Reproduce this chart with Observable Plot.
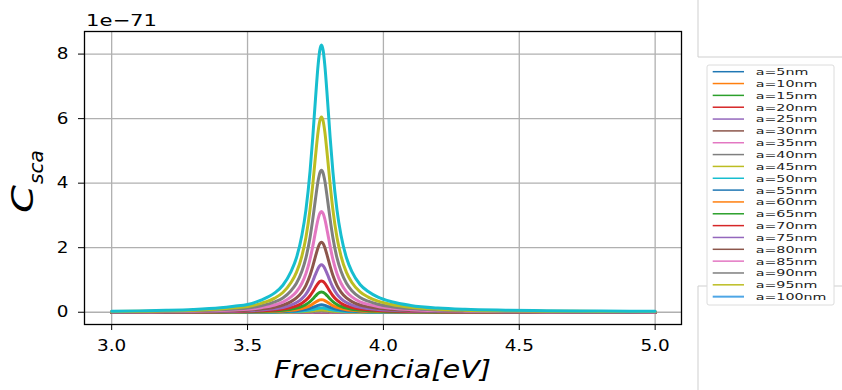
<!DOCTYPE html>
<html><head><meta charset="utf-8">
<script src="https://cdn.jsdelivr.net/npm/d3@7"></script>
<script src="https://cdn.jsdelivr.net/npm/@observablehq/plot@0.6"></script>
<style>
html,body{margin:0;padding:0;background:#fff;}
#chart{width:842px;height:390px;position:relative;overflow:hidden;}
</style></head><body><div id="chart"></div>
<script>
// Particle radii (nm) and legend labels
const radii = [5,10,15,20,25,30,35,40,45,50,55,60,65,70,75,80,85,90,95,100];
const labels = radii.map(a => `a=${a}nm`);
// Peak scattering cross-section of each curve (units of 1e-71)
const peaks = [0,0.00001,0.0001,0.0005,0.002,0.006,0.016,0.035,0.07,0.13,0.23,0.39,0.63,0.97,1.47,2.17,3.12,4.40,6.05,8.28];
// Photon energy (eV) samples and normalized resonance profile
const energies = [3.00,3.10,3.20,3.30,3.40,3.45,3.50,3.55,3.60,3.63,3.66,3.68,3.70,3.715,3.73,3.74,3.75,3.76,3.766,3.772,3.778,3.784,3.794,3.804,3.814,3.829,3.844,3.864,3.884,3.914,3.944,3.98,4.03,4.10,4.20,4.30,4.45,4.60,4.80,5.00];
const profile  = [0.0038,0.0051,0.0071,0.0104,0.0168,0.0224,0.029,0.0456,0.0723,0.101,0.152,0.204,0.288,0.384,0.527,0.654,0.798,0.929,0.981,1.0,0.981,0.929,0.798,0.654,0.527,0.384,0.288,0.204,0.152,0.104,0.0776,0.0567,0.0394,0.0256,0.0157,0.0108,0.0075,0.0056,0.0042,0.0033];
const xTicks = [3.0,3.5,4.0,4.5,5.0];
const yTicks = [0,2,4,6,8];
const palette = ["#1f77b4","#ff7f0e","#2ca02c","#d62728","#9467bd","#8c564b","#e377c2","#7f7f7f","#bcbd22","#17becf"];
const legendColors = radii.map((a,k) => k === 19 ? "#4ea6e6" : palette[k % 10]);

const rows = [];
radii.forEach((a,k) => energies.forEach((e,i) => rows.push({a, e, c: peaks[k] * profile[i]})));

const marks = [
  Plot.ruleX(xTicks, {stroke:"#b0b0b0", strokeWidth:1.3}),
  Plot.ruleY(yTicks, {stroke:"#b0b0b0", strokeWidth:1.3}),
  ...radii.map((a,k) => Plot.line(rows.filter(r => r.a === a), {x:"e", y:"c", stroke: palette[k % 10], strokeWidth:3, curve:"monotone-x"})),
  Plot.frame({stroke:"black", strokeWidth:1.3})
];

const chart = Plot.plot({
  width: 842, height: 390,
  marginLeft: 84, marginRight: 161, marginTop: 31, marginBottom: 66,
  x: {domain:[2.9,5.097], ticks:xTicks, tickFormat: d => d.toFixed(1), tickSize:6, tickPadding:9, label:null},
  y: {domain:[-0.38,8.70], ticks:yTicks, tickFormat: d => String(d), tickSize:6, tickPadding:10, label:null},
  style: {fontSize:"16px", fontFamily:"'DejaVu Sans'", color:"black", background:"white"},
  marks
});
document.getElementById("chart").appendChild(chart);

const svg = d3.select(chart.tagName.toLowerCase() === "svg" ? chart : chart.querySelector("svg"));
// slight horizontal stretch of tick labels
svg.selectAll("text").each(function(){
  const t = d3.select(this);
  const tr = t.attr("transform");
  t.attr("transform", (tr ? tr + " " : "") + "scale(1.15,1)");
});

const ff = "'DejaVu Sans'";
// offset text
svg.append("text").attr("x",86).attr("y",26).attr("text-anchor","start").attr("font-family",ff).attr("font-size",16)
  .attr("textLength",71).attr("lengthAdjust","spacingAndGlyphs").attr("fill","black").text("1e\u221271");
// x label
svg.append("text").attr("x",382.5).attr("y",378).attr("text-anchor","middle").attr("font-family",ff)
  .attr("font-style","italic").attr("font-size",24).attr("textLength",217).attr("lengthAdjust","spacingAndGlyphs")
  .attr("fill","black").text("Frecuencia[eV]");
// y label
const gy = svg.append("g").attr("transform","translate(33,213) rotate(-90)").attr("font-family",ff)
  .attr("font-style","italic").attr("fill","black").attr("text-anchor","start");
gy.append("text").attr("font-size",30).attr("textLength",28).attr("lengthAdjust","spacingAndGlyphs").text("C");
gy.append("text").attr("x",29).attr("y",10).attr("font-size",20).text("sca");

// neighbouring panel borders
svg.append("path").attr("d","M698,0V57H842").attr("fill","none").attr("stroke","#cfcfcf").attr("stroke-width",1);
svg.append("path").attr("d","M842,286H698V390").attr("fill","none").attr("stroke","#cfcfcf").attr("stroke-width",1);

// legend
const lg = svg.append("g").attr("text-anchor","start");
lg.append("rect").attr("x",707).attr("y",65).attr("width",127).attr("height",240).attr("rx",2)
  .attr("fill","white").attr("stroke","#dcdcdc").attr("stroke-width",1);
labels.forEach((lab,i) => {
  const yc = 71.7 + 11.84 * i;
  lg.append("line").attr("x1",712.7).attr("x2",744).attr("y1",yc).attr("y2",yc)
    .attr("stroke",legendColors[i]).attr("stroke-width", i === 19 ? 2 : 1.5);
  lg.append("text").attr("transform",`translate(755.7,${yc + 3.4}) scale(1.5,1)`)
    .attr("font-family",ff).attr("font-size",9.5).attr("fill","#222").text(lab);
});
</script></body></html>
